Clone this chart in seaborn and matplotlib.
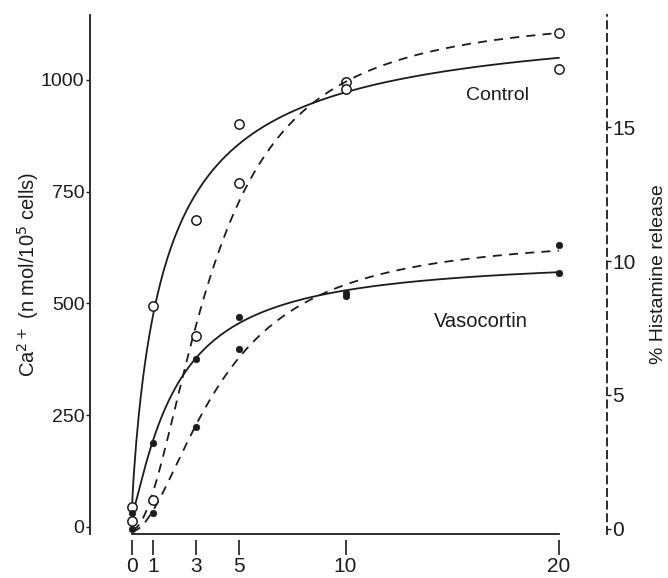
import numpy as np
import pandas as pd
import matplotlib
matplotlib.use("Agg")
import matplotlib.pyplot as plt
import seaborn as sns

# Time after challenge (min)
time_min = [0, 1, 3, 5, 10, 20]

# Ca2+ uptake (n mol / 10^5 cells), left axis -- solid curves
ca_control = [45, 494, 687, 902, 995, 1025]
ca_vasocortin = [31, 188, 376, 470, 523, 568]

# Histamine release (%), right axis -- dashed curves
hist_control = [0.3, 1.1, 7.2, 12.9, 16.4, 18.5]
hist_vasocortin = [0.0, 0.6, 3.8, 6.7, 8.7, 10.6]

x_ticks = [0, 1, 3, 5, 10, 20]
left_ticks = [0, 250, 500, 750, 1000]
left_ticklabels = ["0", "250", "500", "750", "1000"]
right_ticks = [0, 5, 10, 15]
right_ticklabels = ["0", "5", "10", "15"]


def saturation_fit(x, y, n_max=2.0):
    """Least-squares fit of y = A * x^n / (K^n + x^n) + c; returns a callable."""
    x = np.asarray(x, float)
    y = np.asarray(y, float)
    best = None
    for n in np.arange(0.8, n_max + 0.001, 0.05):
        for K in np.linspace(0.2, 12, 300):
            b = x**n / (K**n + x**n)
            M = np.column_stack([b, np.ones_like(b)])
            coef, *_ = np.linalg.lstsq(M, y, rcond=None)
            sse = np.sum((M @ coef - y) ** 2)
            if best is None or sse < best[0]:
                best = (sse, n, K, coef)
    _, n, K, (A, c) = best
    return lambda t: A * t**n / (K**n + t**n) + c


sns.set_theme(style="white")
plt.rcParams["font.family"] = ["Liberation Sans", "DejaVu Sans"]
ink = "#1c1c1c"

fig = plt.figure(figsize=(6.68, 5.78), dpi=100)
ax = fig.add_axes([90 / 668, 44 / 578, 517 / 668, 519 / 578])
ax2 = ax.twinx()

t = np.linspace(0, 20, 400)

curves = []
for name, vals in [("Control", ca_control), ("Vasocortin", ca_vasocortin)]:
    f = saturation_fit(time_min, vals, n_max=1.2)
    curves.append(pd.DataFrame({"t": t, "v": f(t), "group": name}))
ca_curves = pd.concat(curves)

curves = []
for name, vals in [("Control", hist_control), ("Vasocortin", hist_vasocortin)]:
    f = saturation_fit(time_min, vals, n_max=1.9)
    curves.append(pd.DataFrame({"t": t, "v": f(t), "group": name}))
hist_curves = pd.concat(curves)

ca_pts = pd.DataFrame({"t": time_min * 2,
                       "v": ca_control + ca_vasocortin,
                       "group": ["Control"] * 6 + ["Vasocortin"] * 6})
hist_pts = pd.DataFrame({"t": time_min * 2,
                         "v": hist_control + hist_vasocortin,
                         "group": ["Control"] * 6 + ["Vasocortin"] * 6})

# solid curves: Ca2+ uptake
sns.lineplot(data=ca_curves, x="t", y="v", units="group", estimator=None,
             color=ink, lw=1.3, ax=ax, legend=False)
# dashed curves: histamine release
sns.lineplot(data=hist_curves, x="t", y="v", units="group", estimator=None,
             color=ink, lw=1.3, ax=ax2, legend=False, dashes=False)
for line in ax2.get_lines():
    line.set_linestyle((0, (5, 4)))

# markers: open circles for control, dots for vasocortin
for axis, pts in [(ax, ca_pts), (ax2, hist_pts)]:
    ctrl = pts[pts.group == "Control"]
    vaso = pts[pts.group == "Vasocortin"]
    sns.scatterplot(data=ctrl, x="t", y="v", ax=axis, s=45, marker="o",
                    facecolor="white", edgecolor=ink, linewidth=1.1,
                    zorder=5, legend=False, clip_on=False)
    sns.scatterplot(data=vaso, x="t", y="v", ax=axis, s=22, marker="o",
                    color=ink, edgecolor=ink, linewidth=0.5,
                    zorder=5, legend=False, clip_on=False)

ax.set_xlim(-1.97, 22.25)
ax.set_ylim(-15.7, 1145)
ax2.set_ylim(-0.187, 19.18)

# left axis
ax.set_yticks(left_ticks)
ax.set_yticklabels(left_ticklabels)
ax.tick_params(axis="y", left=True, direction="out", length=3, width=1,
               pad=1, labelsize=14, colors=ink)
ax.set_ylabel("Ca$^{2+}$ (n mol/10$^{5}$ cells)", fontsize=14.5, color=ink,
              labelpad=0)

# bottom axis: baseline spine plus detached ticks below it
ax.set_xticks([])
sec = ax.secondary_xaxis(-0.0116)
sec.set_xticks(x_ticks)
sec.set_xticklabels([str(v) for v in x_ticks])
sec.spines["bottom"].set_visible(False)
sec.tick_params(axis="x", direction="out", length=11, width=1.2, pad=1,
                labelsize=15, colors=ink)
ax.set_xlabel("")

# right axis
ax2.set_yticks(right_ticks)
ax2.set_yticklabels(right_ticklabels)
ax2.tick_params(axis="y", right=True, direction="out", length=3, width=1,
                pad=1, labelsize=15, colors=ink)
ax2.set_ylabel("% Histamine release", fontsize=14, color=ink, labelpad=10)

for a in (ax, ax2):
    a.set_xlabel("")
    a.grid(False)
    a.set_facecolor("none")
    a.spines["top"].set_visible(False)

ax.spines["right"].set_visible(False)
ax.spines["left"].set_color(ink)
ax.spines["left"].set_linewidth(1.3)
ax.spines["bottom"].set_color(ink)
ax.spines["bottom"].set_linewidth(1.3)
ax.spines["bottom"].set_bounds(0, 20)

ax2.spines["left"].set_visible(False)
ax2.spines["bottom"].set_visible(False)
ax2.spines["right"].set_color(ink)
ax2.spines["right"].set_linewidth(1.3)
ax2.spines["right"].set_linestyle((0, (4, 3)))

ax.text(17.1, 964, "Control", ha="center", va="center", fontsize=14, color=ink)
ax.text(16.35, 459, "Vasocortin", ha="center", va="center", fontsize=14.5,
        color=ink)

fig.savefig("out.png", dpi=100, facecolor="white")
